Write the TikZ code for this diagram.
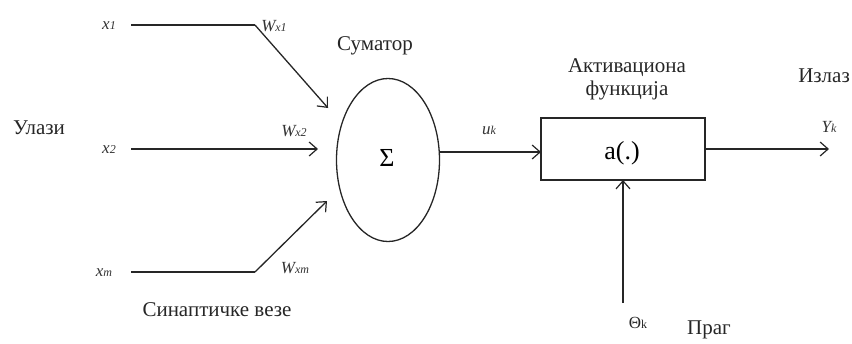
\documentclass[tikz,border=0pt]{standalone}
\usepackage{fontspec}
\setmainfont{Liberation Serif}
\usetikzlibrary{arrows.meta,shapes.geometric}
\newcommand{\sbx}[1]{{\fontsize{12}{14}\selectfont\itshape #1}}
\begin{document}
\begin{tikzpicture}[x=1pt,y=-1pt,
  ln/.style={draw=black!85,line width=1.3pt},
  arr/.style={ln,-{Straight Barb[length=8pt,width=14pt,line width=1.2pt]}},
  lbl/.style={font=\fontsize{21}{23}\selectfont,inner sep=0pt,text=black!85},
  var/.style={font=\fontsize{17}{19}\selectfont\itshape,inner sep=0pt,text=black!80}]
\useasboundingbox (0,0) rectangle (852,343);
% inputs
\node[var] (x1) at (109,26) {x\sbx{1}};
\node[var] (x2) at (109,150) {x\sbx{2}};
\node[var] (xm) at (104,273) {x\sbx{m}};
\coordinate (b1) at (255,25);
\coordinate (bm) at (255,272);
\coordinate (s1) at (131,25);
\coordinate (s2) at (131,149);
\coordinate (sm) at (131,272);
\coordinate (e1) at (328,108);
\coordinate (e2) at (318,149);
\coordinate (em) at (327,201);
\draw[ln] (s1) -- (b1);
\draw[arr] (b1) -- (e1);
\draw[arr] (s2) -- (e2);
\draw[ln] (sm) -- (bm);
\draw[arr] (bm) -- (em);
\node[var] (w1) at (274,26) {W\sbx{x1}};
\node[var] (w2) at (294,131) {W\sbx{x2}};
\node[var] (wm) at (295,268) {W\sbx{xm}};
\node[lbl] (in) at (39,128) {Улази};
\node[lbl] (syn) at (217,310) {Синаптичке везе};
% summator
\node[ln,ellipse,minimum width=103pt,minimum height=163pt,inner sep=0pt] (sum) at (388,160) {};
\node[font=\fontsize{26}{28}\selectfont,inner sep=0pt] (sig) at (387,158) {Σ};
\node[lbl] (sumt) at (375,46) {Суматор};
% activation
\node[ln,draw,minimum width=164pt,minimum height=62pt,inner sep=0pt] (act) at (623,149) {};
\node[font=\fontsize{26}{28}\selectfont,inner sep=0pt] (af) at (622,153) {a(.)};
\node[lbl,align=center,font=\fontsize{21}{23}\selectfont] (actt) at (627,79) {Активациона\\функција};
\coordinate (sr) at (439,152);
\coordinate (al) at (541,152);
\draw[arr] (sr) -- (al);
\node[var] (uk) at (489,130) {u\sbx{k}};
\coordinate (ao) at (705,149);
\coordinate (yo) at (829,149);
\draw[arr] (ao) -- (yo);
\node[var] (yk) at (829,127) {Y\sbx{k}};
\node[lbl,anchor=east] (out) at (850,76) {Излаз};
% threshold
\coordinate (tb) at (623,303);
\coordinate (tt) at (623,180);
\draw[arr] (tb) -- (tt);
\node[font=\fontsize{17}{19}\selectfont,inner sep=0pt,text=black!85] (th) at (638,323) {Θ{\fontsize{12}{14}\selectfont k}};
\node[lbl] (prag) at (709,330) {Праг};
\end{tikzpicture}
\end{document}
